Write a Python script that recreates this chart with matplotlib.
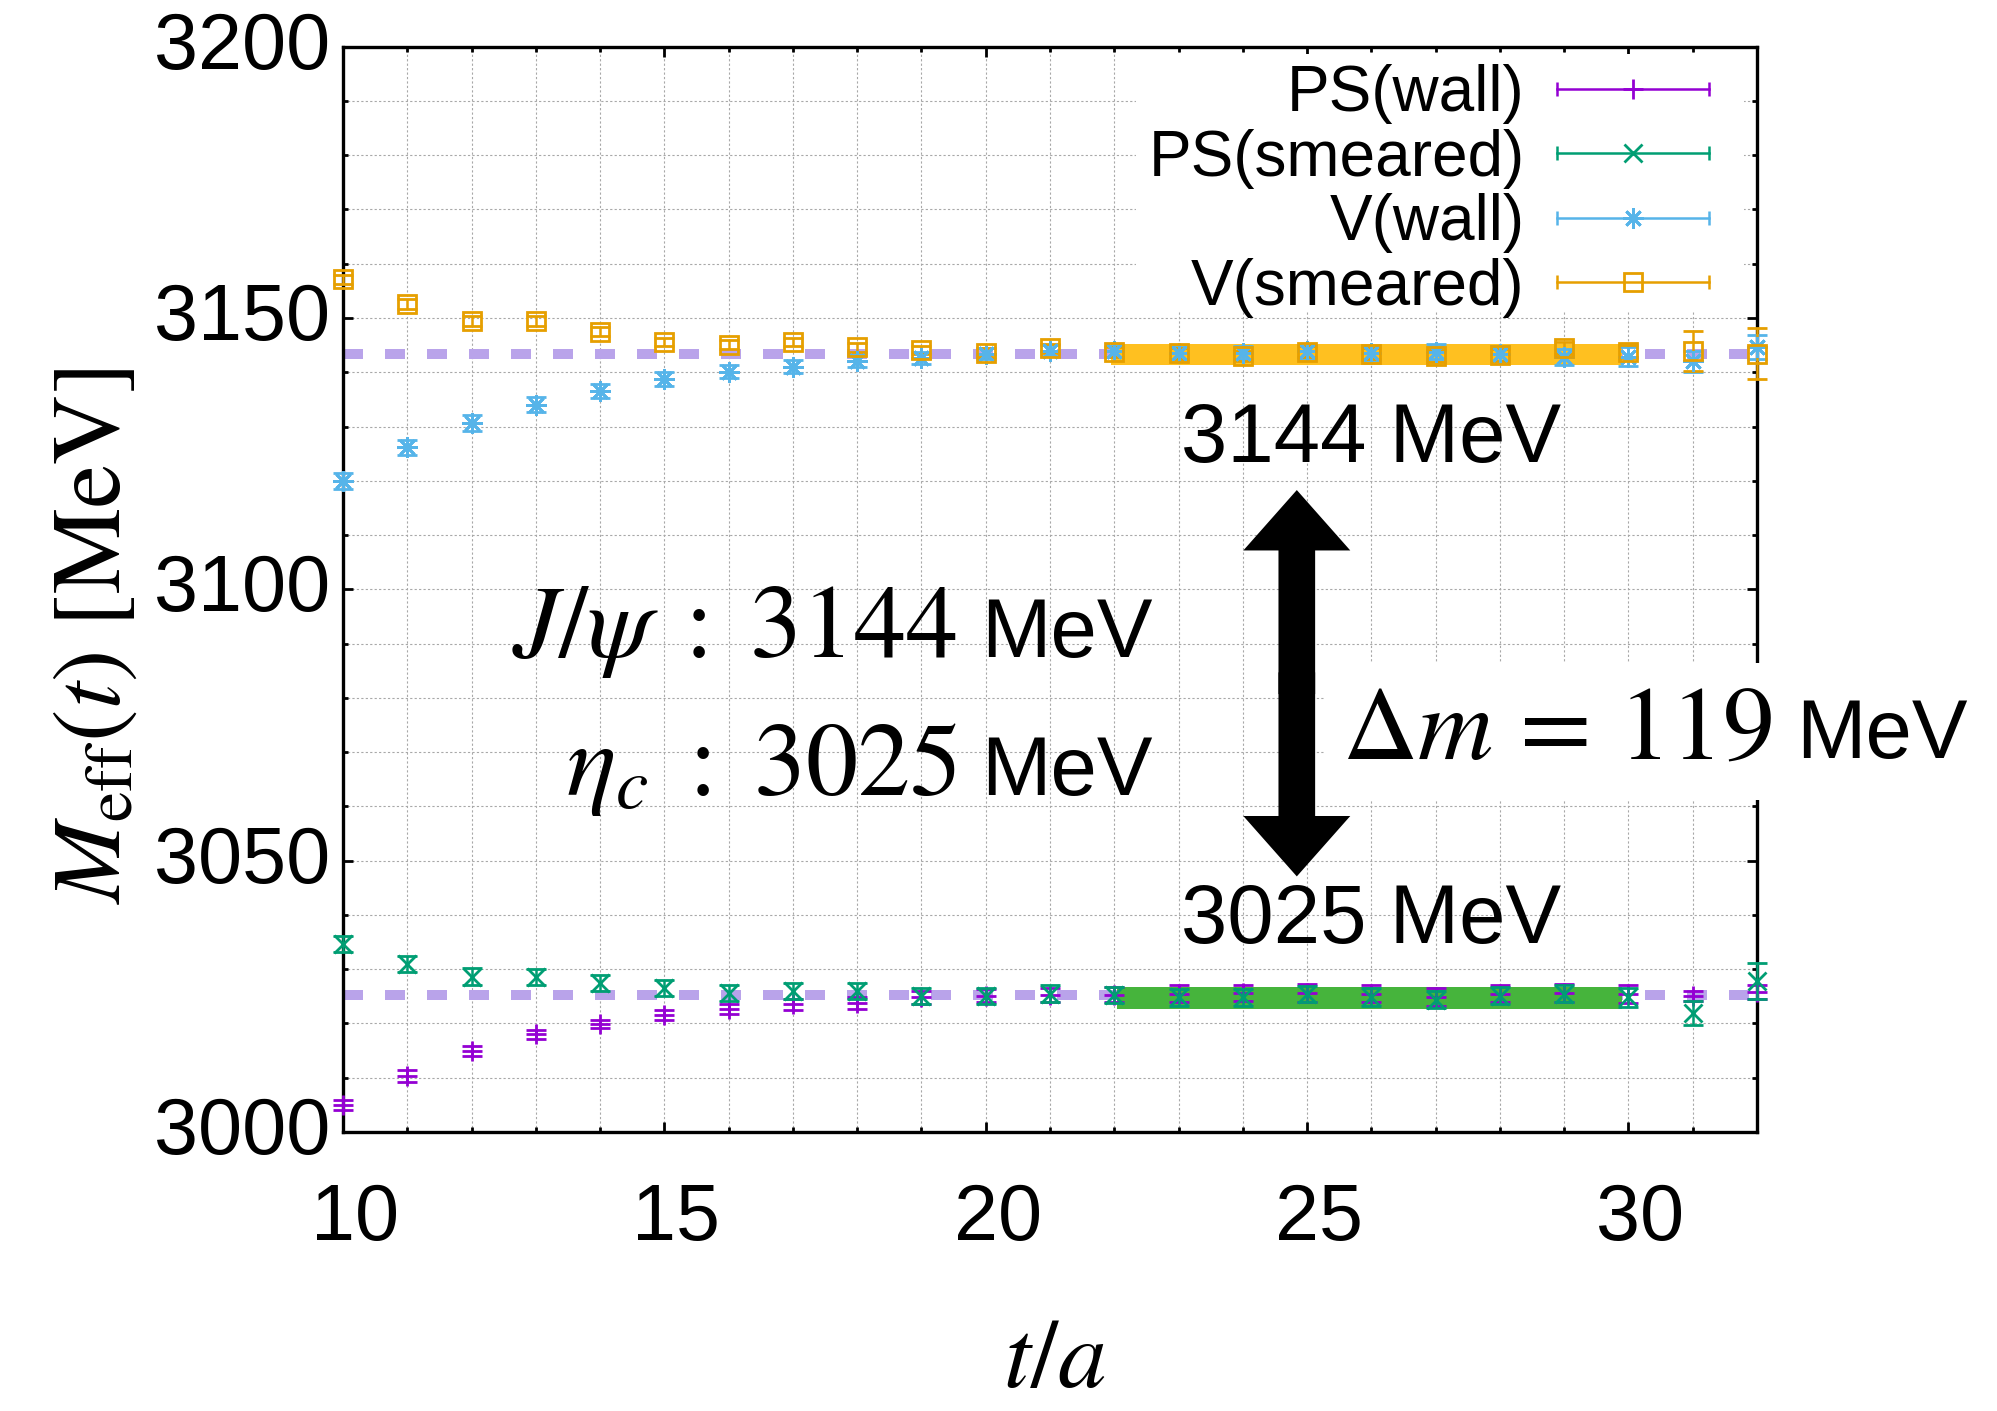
import numpy as np
import matplotlib
matplotlib.use("Agg")
import matplotlib.pyplot as plt
import matplotlib.transforms as mtransforms
from matplotlib.patches import FancyArrowPatch, Rectangle, ArrowStyle
from matplotlib.lines import Line2D
from matplotlib.legend_handler import HandlerLine2D, HandlerTuple
from matplotlib.ticker import MultipleLocator

# ---------------- data ----------------
t = np.arange(10, 33)

ps_wall = [3005.0, 3010.4, 3014.9, 3018.0, 3019.9, 3021.5, 3022.6, 3023.5, 3023.8,
           3024.8, 3025.1, 3025.2, 3025.3, 3025.5, 3025.6, 3025.6, 3025.5, 3024.9,
           3025.5, 3025.6, 3025.4, 3025.1, 3025.8]
ps_wall_err = [0.9, 1.1, 0.9, 0.8, 0.8, 0.9, 0.9, 1.0, 1.1, 1.2, 1.2, 1.3, 1.4, 1.5,
               1.5, 1.6, 1.6, 1.6, 1.6, 1.7, 1.7, 0.9, 1.3]

ps_smear = [3034.6, 3031.0, 3028.6, 3028.5, 3027.5, 3026.6, 3025.6, 3026.0, 3026.0,
            3025.1, 3025.1, 3025.5, 3025.3, 3024.8, 3024.8, 3025.4, 3024.9, 3024.4,
            3025.1, 3025.5, 3024.8, 3021.9, 3027.8]
ps_smear_err = [1.5, 1.5, 1.6, 1.5, 1.5, 1.5, 1.5, 1.5, 1.5, 1.5, 1.5, 1.5, 1.5, 1.5,
                1.5, 1.5, 1.6, 1.6, 1.6, 1.6, 1.7, 2.2, 3.3]

v_wall = [3120.0, 3126.2, 3130.6, 3134.0, 3136.5, 3138.7, 3140.1, 3141.0, 3142.0,
          3142.6, 3143.4, 3144.0, 3143.9, 3143.6, 3143.6, 3143.9, 3143.5, 3143.8,
          3143.4, 3142.8, 3142.9, 3142.0, 3144.6]
v_wall_err = [1.5, 1.4, 1.5, 1.4, 1.3, 1.3, 1.2, 1.2, 1.1, 1.1, 1.0, 1.0, 1.0, 1.1,
              1.2, 1.2, 1.3, 1.4, 1.4, 1.5, 1.7, 2.0, 2.2]

v_smear = [3157.1, 3152.6, 3149.5, 3149.5, 3147.5, 3145.6, 3145.1, 3145.6, 3144.6,
           3144.1, 3143.6, 3144.4, 3143.8, 3143.5, 3143.0, 3143.8, 3143.4, 3143.0,
           3143.2, 3144.5, 3143.8, 3143.9, 3143.4]
v_smear_err = [0.9, 0.9, 0.9, 0.9, 0.8, 0.8, 0.8, 0.8, 0.8, 0.8, 0.8, 0.9, 0.9, 1.0,
               1.0, 1.0, 1.0, 1.1, 1.1, 1.1, 1.2, 3.7, 4.7]

series_labels = ["PS(wall)", "PS(smeared)", "V(wall)", "V(smeared)"]

mass_V = 3143.4          # dashed line J/psi
mass_PS = 3025.2         # dashed line eta_c
fit_V, fit_V_err, fit_V_range = 3143.3, 2.0, [21.95, 29.9]
fit_PS, fit_PS_err, fit_PS_range = 3024.7, 1.95, [22.05, 29.9]

arrow_x, arrow_top, arrow_bottom = 24.84, 3118.3, 3047.1

# ---------------- style ----------------
plt.rcParams["font.family"] = ["Liberation Sans", "DejaVu Sans"]
plt.rcParams["mathtext.fontset"] = "stix"

c_pw, c_ps, c_vw, c_vs = "#9400D3", "#009E73", "#56B4E9", "#E69F00"
c_dash = "#B9A3EA"
c_bandV, c_bandPS = "#FFC020", "#46B43C"

W, H, DPI = 1997, 1411, 100
fig = plt.figure(figsize=(W / DPI, H / DPI), dpi=DPI)
ax_l, ax_r, ax_t, ax_b = 343, 1757, 46.7, 1132
ax = fig.add_axes([ax_l / W, 1 - ax_b / H, (ax_r - ax_l) / W, (ax_b - ax_t) / H])

ax.set_xlim(10, 32)
ax.set_ylim(3000, 3200)
ax.xaxis.set_major_locator(MultipleLocator(5))
ax.xaxis.set_minor_locator(MultipleLocator(1))
ax.yaxis.set_major_locator(MultipleLocator(50))
ax.yaxis.set_minor_locator(MultipleLocator(10))
ax.set_axisbelow(True)
ax.grid(which="both", color="#a8a8a8", linestyle=(0, (2.0, 2.0)), linewidth=0.8)
for s in ax.spines.values():
    s.set_linewidth(2.4)
ax.tick_params(which="both", direction="in", top=True, right=True, width=2.0,
               labelsize=57)
ax.tick_params(which="major", length=7.2)
ax.tick_params(which="minor", length=3.6)
ax.tick_params(axis="x", pad=36)
ax.tick_params(axis="y", pad=9.4)

# dashed mass lines
dash = (0, (2.0, 2.2))
ax.axhline(mass_V, color=c_dash, lw=7.2, ls=dash, dash_capstyle="butt", zorder=1)
ax.axhline(mass_PS, color=c_dash, lw=7.2, ls=dash, dash_capstyle="butt", zorder=1)

# fit bands
ax.fill_between(fit_V_range, fit_V - fit_V_err, fit_V + fit_V_err, color=c_bandV,
                lw=0, zorder=2)
ax.fill_between(fit_PS_range, fit_PS - fit_PS_err, fit_PS + fit_PS_err,
                color=c_bandPS, lw=0, zorder=2)

ast = (8, 2, 0)
specs = [
    (ps_wall, ps_wall_err, "+", c_pw, 14.5),
    (ps_smear, ps_smear_err, "x", c_ps, 13.5),
    (v_wall, v_wall_err, ast, c_vw, 14.5),
    (v_smear, v_smear_err, "s", c_vs, 13.5),
]
for i, (y, e, m, c, ms) in enumerate(specs):
    cont = ax.errorbar(t, y, yerr=e, marker=m, linestyle="none", color=c, ms=ms,
                       mew=2.0, mfc="none", elinewidth=1.8, capsize=7,
                       capthick=1.8, zorder=3 + 0.1 * i)
    dl, caps, bars = cont.lines
    dl.set_clip_on(False)
    for a in list(caps) + list(bars):
        a.set_clip_on(False)

# ---------------- legend ----------------
handles, hmap = [], {tuple: HandlerTuple(ndivide=1, pad=0)}
for (y, e, m, c, ms) in specs:
    capline = Line2D([], [], color=c, lw=1.8, marker="|", ms=10, mew=1.8)
    center = Line2D([], [], color=c, ls="none", marker=m, ms=ms, mew=2.0, mfc="none")
    hmap[capline] = HandlerLine2D(numpoints=2, marker_pad=0)
    hmap[center] = HandlerLine2D(numpoints=1)
    handles.append((capline, center))

fs_leg = 46
fs_px = fs_leg * DPI / 72.0
ax_w_px, ax_h_px = ax_r - ax_l, ax_b - ax_t


def build_legend(ls, ay):
    ax_anchor_x = (1709 - ax_l) / ax_w_px
    return ax.legend(handles, series_labels, handler_map=hmap, loc="upper right",
                     bbox_to_anchor=(ax_anchor_x, ay), bbox_transform=ax.transAxes,
                     fontsize=fs_leg, markerfirst=False, handlelength=2.385,
                     handletextpad=0.5, labelspacing=ls, borderpad=0,
                     borderaxespad=0, frameon=False)


def line_centers(leg, r):
    out = []
    for h in leg.legend_handles:
        bb = h.get_window_extent(r)
        out.append(0.5 * (bb.y0 + bb.y1))
    return out


ls, ay = 0.0, 1.0
leg = build_legend(ls, ay)
fig.canvas.draw()
r = fig.canvas.get_renderer()
cs = line_centers(leg, r)
spacing = (cs[0] - cs[-1]) / 3.0
ls = ls + (64.4 - spacing) / fs_px
leg.remove()
leg = build_legend(ls, ay)
fig.canvas.draw()
cs = line_centers(leg, r)
target0 = H - 89.0
ay = ay + (target0 - cs[0]) / ax_h_px
leg.remove()
leg = build_legend(ls, ay)
leg.set_zorder(6)

# ---------------- labels ----------------
ax.set_xlabel(r"$t/a$", fontsize=70)
ax.xaxis.set_label_coords(0.503, -0.235)
ax.xaxis.label.set_va("baseline")
ax.set_ylabel(r"$M_{\mathrm{eff}}(t)\ [\mathrm{MeV}]$", fontsize=70)
ax.yaxis.set_label_coords(-0.1577, 0.457)
ax.yaxis.label.set_va("baseline")

dx = mtransforms.ScaledTranslation(12 / DPI, 0, fig.dpi_scale_trans)
for lab in ax.xaxis.get_majorticklabels():
    lab.set_transform(lab.get_transform() + dx)
dy = mtransforms.ScaledTranslation(0, 7 / DPI, fig.dpi_scale_trans)
for lab in ax.yaxis.get_majorticklabels():
    lab.set_transform(lab.get_transform() + dy)

# ---------------- annotations ----------------
ax.text(23.04, 3123.5, "3144 MeV", fontsize=60, ha="left", va="baseline", zorder=5)
ax.text(23.04, 3034.9, "3025 MeV", fontsize=60, ha="left", va="baseline", zorder=5)

ax.text(19.55, 3087.6, r"$J/\psi\;:\;3144$", fontsize=75, ha="right",
        va="baseline", zorder=5)
ax.text(19.93, 3087.6, "MeV", fontsize=60, ha="left", va="baseline", zorder=5)
ax.text(19.55, 3062.1, r"$\eta_c\;:\;3025$", fontsize=75, ha="right",
        va="baseline", zorder=5)
ax.text(19.93, 3062.1, "MeV", fontsize=60, ha="left", va="baseline", zorder=5)

dm_math = ax.text(25.54, 3068.9, r"$\Delta m\,=\,119$", fontsize=75, ha="left",
                  va="baseline", zorder=8, clip_on=False)
dm_unit = ax.text(32.61, 3068.9, "MeV", fontsize=60, ha="left", va="baseline",
                  zorder=8, clip_on=False)

# double-headed arrow (two halves overlapping in the middle)
mid = 0.5 * (arrow_top + arrow_bottom)
style = ArrowStyle.Simple(head_length=43.5, head_width=77, tail_width=26.4)
for start, yy in ((mid - 2.0, arrow_top), (mid + 2.0, arrow_bottom)):
    ax.add_patch(FancyArrowPatch((arrow_x, start), (arrow_x, yy), arrowstyle=style,
                                 mutation_scale=1, shrinkA=0, shrinkB=0,
                                 color="black", lw=0, zorder=4))

fig.canvas.draw()
r = fig.canvas.get_renderer()

# white box behind legend (covers grid like an opaque key)
lb = leg.get_window_extent(r)
cs = line_centers(leg, r)
ax.add_patch(Rectangle((lb.x0 - 12, cs[-1] - 29), (lb.x1 + 35) - (lb.x0 - 12),
                       (cs[0] + 35) - (cs[-1] - 29),
                       transform=mtransforms.IdentityTransform(), facecolor="white",
                       edgecolor="none", zorder=1.2, clip_on=False))

# white box behind delta-m text
b1 = dm_math.get_window_extent(r)
b2 = dm_unit.get_window_extent(r)
x0 = min(b1.x0, b2.x0) - 18
x1 = max(b1.x1, b2.x1) + 20
y0 = min(b1.y0, b2.y0) - 20
y1 = max(b1.y1, b2.y1) + 20
ax.add_patch(Rectangle((x0, y0), x1 - x0, y1 - y0,
                       transform=mtransforms.IdentityTransform(), facecolor="white",
                       edgecolor="none", zorder=7, clip_on=False))

fig.savefig("out.png", dpi=DPI)
